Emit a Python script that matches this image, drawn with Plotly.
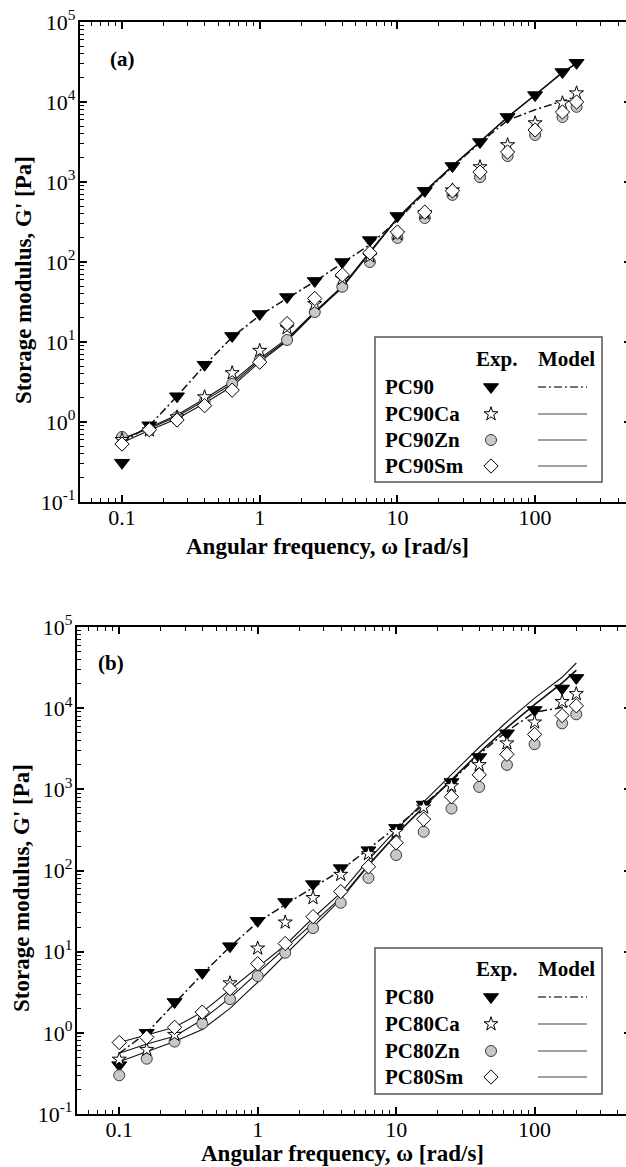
import plotly.graph_objects as go

W, H = 626, 1167
FONT = "Liberation Serif"

# ---------------- data ----------------
freq = [0.1, 0.158, 0.251, 0.398, 0.631, 1.0, 1.58, 2.51, 3.98, 6.31,
        10.0, 15.8, 25.1, 39.8, 63.1, 100.0, 158.0, 200.0]

# panel (a)
pc90_exp = [0.31, 0.91, 2.1, 5.2, 11.9, 22.4, 36.5, 58, 100, 188,
            376, 775, 1585, 3160, 6500, 12200, 23700, 30900]
pc90ca_exp = [0.6, 0.79, 1.15, 2.05, 4.1, 7.8, 15, 30, 62, 118,
              225, 410, 790, 1540, 2900, 5450, 9700, 12900]
pc90zn_exp = [0.65, 0.8, 1.15, 1.8, 3.0, 6.0, 10.6, 23.7, 49, 100,
              200, 355, 690, 1150, 2110, 3870, 6500, 8700]
pc90sm_exp = [0.53, 0.8, 1.06, 1.6, 2.5, 5.6, 17, 35, 69, 130,
              237, 420, 775, 1330, 2370, 4470, 7500, 10000]
pc90_mod = [0.55, 0.9, 2.1, 5.1, 11.5, 21.5, 35, 57, 97, 165,
            330, 740, 1550, 3100, 5900, 8000, 10300, 11700]
pc90ca_mod = [0.6, 0.86, 1.22, 1.95, 3.2, 6.2, 11.0, 24, 50, 135,
              355, 770, 1600, 3200, 6500, 12300, 23500, 30500]
pc90zn_mod = [0.62, 0.83, 1.17, 1.85, 3.0, 5.9, 10.6, 23.5, 49, 133,
              352, 765, 1590, 3190, 6480, 12250, 23400, 30400]
pc90sm_mod = [0.55, 0.79, 1.1, 1.72, 2.8, 5.6, 10.3, 23, 48, 131,
              350, 760, 1580, 3180, 6460, 12200, 23300, 30300]

# panel (b)
pc80_exp = [0.40, 1.0, 2.4, 5.5, 11.7, 24, 41, 68, 107, 178,
            335, 650, 1230, 2500, 4900, 9500, 17500, 23600]
pc80ca_exp = [0.47, 0.62, 0.95, 1.7, 4.1, 11, 23, 46, 89, 160,
              300, 600, 1100, 2000, 3700, 6700, 12000, 15000]
pc80zn_exp = [0.30, 0.48, 0.78, 1.3, 2.6, 5.0, 9.7, 19.5, 40, 81,
              155, 300, 580, 1070, 2000, 3600, 6500, 8400]
pc80sm_exp = [0.76, 0.88, 1.17, 1.8, 3.5, 7.1, 12.6, 27, 55, 111,
              220, 428, 810, 1510, 2700, 4750, 8100, 10700]
pc80_mod = [0.56, 1.0, 2.3, 5.3, 11.5, 23, 38, 62, 100, 185,
            340, 650, 1260, 2700, 5200, 8900, 10300, 11000]
pc80ca_mod = [0.56, 0.73, 0.91, 1.45, 2.7, 5.5, 11, 23, 46, 118,
              280, 610, 1320, 2850, 5800, 11200, 20600, 29500]
pc80zn_mod = [0.44, 0.59, 0.78, 1.1, 2.0, 4.2, 9.1, 20, 44, 115,
              275, 600, 1300, 2800, 5700, 11000, 20300, 29000]
pc80sm_mod = [0.76, 0.95, 1.17, 1.8, 3.4, 6.3, 12, 26, 53, 135,
              316, 700, 1500, 3300, 6800, 13300, 24000, 36000]

# ticks
x_tickvals = [0.1, 1, 10, 100]
x_ticktext = ["0.1", "1", "10", "100"]
y_tickvals = [0.1, 1, 10, 100, 1000, 10000, 100000]
y_ticktext = ["10<sup>-1</sup>", "10<sup>0</sup>", "10<sup>1</sup>", "10<sup>2</sup>",
              "10<sup>3</sup>", "10<sup>4</sup>", "10<sup>5</sup>"]
x_minor = [m * d for d in (0.01, 0.1, 1, 10, 100) for m in range(2, 10)]
y_minor = [m * d for d in (0.1, 1, 10, 100, 1000, 10000) for m in range(2, 10)]

# legend entries
names_a = ["PC90", "PC90Ca", "PC90Zn", "PC90Sm"]
names_b = ["PC80", "PC80Ca", "PC80Zn", "PC80Sm"]

# ---------------- styles ----------------
LINE = "#111111"
DASHDOT = "8px,3px,2px,3px"
MK = {
    "tri": dict(symbol="triangle-down", size=13, color="black", line=dict(color="black", width=1)),
    "circ": dict(symbol="circle", size=11, color="#c8c8c8", line=dict(color="#3a3a3a", width=1)),
    "star": dict(symbol="star", size=10.5, color="white", line=dict(color="black", width=1)),
    "diam": dict(symbol="diamond", size=11, color="white", line=dict(color="black", width=1)),
}


def px(x):
    return x / W


def py(y):
    return 1 - y / H


XR = [-1.305, 2.66]

fig = go.Figure()


def add_panel(xa, ya, mods, exps):
    for i, m in enumerate(mods):
        fig.add_trace(go.Scatter(
            x=freq, y=m, mode="lines", xaxis=xa, yaxis=ya, showlegend=False,
            line=dict(color=LINE, width=1.5 if i == 0 else 1.1,
                      dash=DASHDOT if i == 0 else "solid")))
    order = [(exps[0], "tri"), (exps[2], "circ"), (exps[1], "star"), (exps[3], "diam")]
    for vals, key in order:
        fig.add_trace(go.Scatter(
            x=freq, y=vals, mode="markers", xaxis=xa, yaxis=ya, showlegend=False,
            marker=MK[key], cliponaxis=False))


add_panel("x", "y", [pc90_mod, pc90ca_mod, pc90zn_mod, pc90sm_mod],
          [pc90_exp, pc90ca_exp, pc90zn_exp, pc90sm_exp])
add_panel("x2", "y2", [pc80_mod, pc80ca_mod, pc80zn_mod, pc80sm_mod],
          [pc80_exp, pc80ca_exp, pc80zn_exp, pc80sm_exp])

fig.add_trace(go.Scatter(x=freq, y=pc90_exp, xaxis="x", yaxis="y3", mode="markers",
                         marker=dict(opacity=0), showlegend=False, hoverinfo="skip"))
fig.add_trace(go.Scatter(x=freq, y=pc80_exp, xaxis="x2", yaxis="y4", mode="markers",
                         marker=dict(opacity=0), showlegend=False, hoverinfo="skip"))

# ---------------- legends ----------------
leg_sym_x = 491
rows_a = [387, 414, 440, 466]
rows_b = [997, 1024, 1051, 1077]
sym_keys = ["tri", "star", "circ", "diam"]
for rows in (rows_a, rows_b):
    for r, key in zip(rows, sym_keys):
        fig.add_trace(go.Scatter(x=[leg_sym_x], y=[r], xaxis="x5", yaxis="y5", mode="markers",
                                 marker=MK[key], showlegend=False, hoverinfo="skip"))

shapes = []
annotations = []
tfont_b = dict(family=FONT, size=21, color="black")


def ann(text, x, y, font, **kw):
    d = dict(text=text, x=px(x), y=py(y), xref="paper", yref="paper", showarrow=False,
             xanchor="center", yanchor="middle", font=font)
    d.update(kw)
    annotations.append(d)


def legend_block(top, bottom, rows, names, head_y):
    shapes.append(dict(type="rect", xref="paper", yref="paper",
                       x0=px(375), x1=px(602), y0=py(bottom), y1=py(top),
                       line=dict(color="#555555", width=1.5), fillcolor="rgba(0,0,0,0)"))
    ann("<b>Exp.</b>", 496, head_y, tfont_b)
    ann("<b>Model</b>", 566, head_y, tfont_b)
    for i, (r, n) in enumerate(zip(rows, names)):
        ann("<b>%s</b>" % n, 383, r, tfont_b, xanchor="left")
        shapes.append(dict(type="line", xref="paper", yref="paper",
                           x0=px(538), x1=px(587), y0=py(r), y1=py(r),
                           line=dict(color="#444444", width=1.3 if i == 0 else 1.2,
                                     dash=DASHDOT if i == 0 else "solid")))


legend_block(337, 482, rows_a, names_a, 359)
legend_block(948, 1094, rows_b, names_b, 969)

ann("<b>(a)</b>", 122, 59, tfont_b)
ann("<b>(b)</b>", 111, 663, tfont_b)

title_font = dict(family=FONT, size=23, color="black")
xt = "<b>Angular frequency, \u03c9 [rad/s]</b>"
yt = "<b>Storage modulus, G' [Pa]</b>"
ann(xt, 327, 546, title_font)
ann(xt, 342, 1153, title_font)
ann(yt, 24, 280, title_font, textangle=-90)
ann(yt, 21, 888, title_font, textangle=-90)

# ---------------- axes ----------------
tick_font = dict(family=FONT, size=22, color="black")


def xaxis(domain, anchor):
    return dict(type="log", domain=domain, anchor=anchor, range=XR, automargin=False,
                tickmode="array", tickvals=x_tickvals, ticktext=x_ticktext,
                ticks="inside", ticklen=7, tickwidth=1.5, tickcolor="black",
                showline=True, linewidth=2.2, linecolor="black", mirror="ticks",
                showgrid=False, zeroline=False, tickfont=tick_font,
                ticklabelstandoff=-6,
                minor=dict(tickmode="array", tickvals=x_minor, ticks="inside",
                           ticklen=3.5, tickwidth=1.3, tickcolor="black", showgrid=False))


def yaxis(domain, anchor):
    return dict(type="log", domain=domain, anchor=anchor, range=[-1, 5], automargin=False,
                tickmode="array", tickvals=y_tickvals, ticktext=y_ticktext,
                ticks="inside", ticklen=7, tickwidth=1.5, tickcolor="black",
                showline=True, linewidth=2.2, linecolor="black", mirror=False,
                showgrid=False, zeroline=False, tickfont=tick_font,
                ticklabelstandoff=-2,
                minor=dict(tickmode="array", tickvals=y_minor, ticks="inside",
                           ticklen=3.5, tickwidth=1.3, tickcolor="black", showgrid=False))


def yaxis_right(over, anchor):
    return dict(type="log", overlaying=over, anchor=anchor, side="right", range=[-1, 5],
                automargin=False,
                tickmode="array", tickvals=y_tickvals, ticks="inside", ticklen=2.5,
                tickwidth=2, tickcolor="black", showticklabels=False, showline=False,
                showgrid=False, zeroline=False)


fig.update_layout(
    width=W, height=H,
    margin=dict(l=0, r=0, t=0, b=0, autoexpand=False),
    paper_bgcolor="white", plot_bgcolor="rgba(0,0,0,0)",
    showlegend=False,
    xaxis=xaxis([px(80), 1], "y"),
    yaxis=yaxis([py(502), py(22)], "x"),
    yaxis3=yaxis_right("y", "x"),
    xaxis2=xaxis([px(77), 1], "y2"),
    yaxis2=yaxis([py(1114), py(627)], "x2"),
    yaxis4=yaxis_right("y2", "x2"),
    xaxis5=dict(domain=[0, 1], anchor="y5", range=[0, W], visible=False, fixedrange=True,
                automargin=False),
    yaxis5=dict(domain=[0, 1], anchor="x5", range=[H, 0], visible=False, fixedrange=True,
                automargin=False),
    shapes=shapes,
    annotations=annotations,
)

fig.write_html("out.html")
